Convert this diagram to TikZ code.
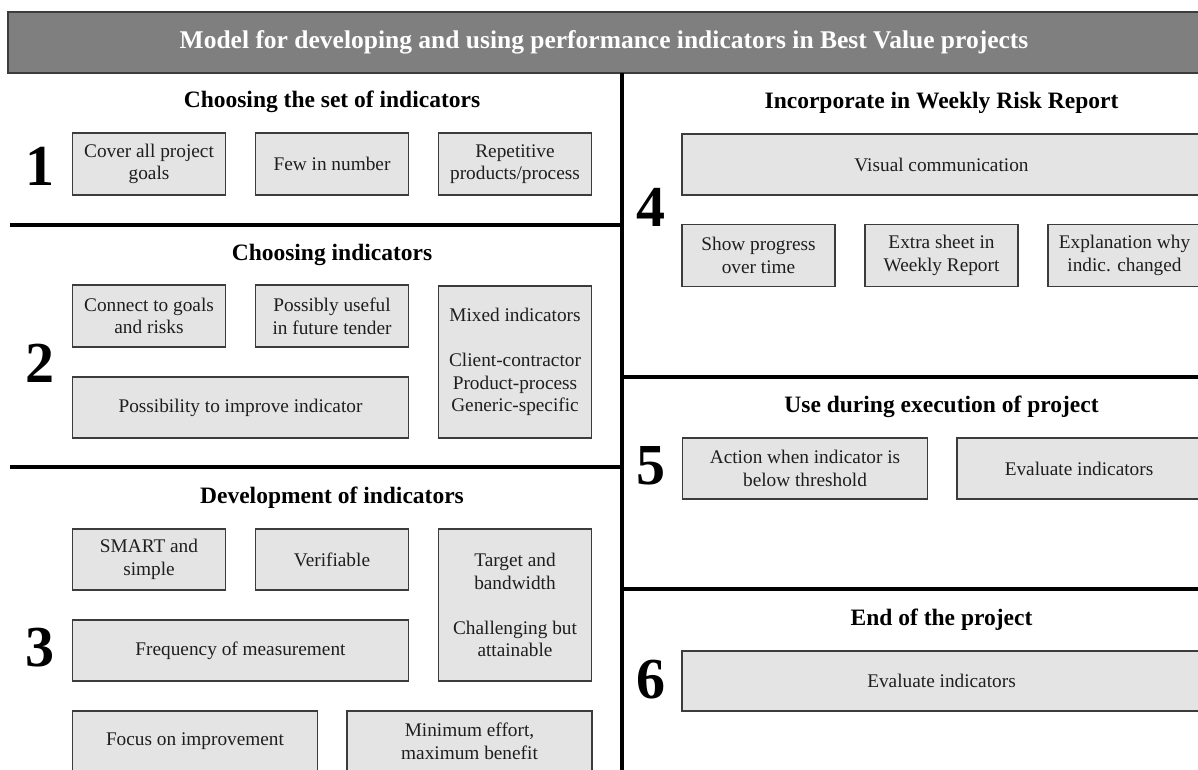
\documentclass[tikz,border=0pt]{standalone}
\usepackage{fontspec}
\setmainfont{Liberation Serif}
\usetikzlibrary{positioning}
\definecolor{BarGrey}{RGB}{127,127,127}
\definecolor{EdgeGrey}{RGB}{60,60,60}
\definecolor{BoxGrey}{RGB}{228,228,228}
\definecolor{BoxText}{RGB}{30,30,30}

\begin{document}
\begin{tikzpicture}[
    x=1pt,
    y=-1pt,
    box/.style={draw=EdgeGrey, fill=BoxGrey, line width=1.4pt, align=center,
      inner sep=0pt, text=BoxText, font=\fontsize{19.3}{22.6}\selectfont},
    heading/.style={font=\bfseries\fontsize{23.5}{26}\selectfont},
    number/.style={font=\bfseries\fontsize{58}{60}\selectfont},
    divider/.style={line width=3.5pt, black}
]
\useasboundingbox (0,0) rectangle (1198,769);
\clip (0,0) rectangle (1198,769);

% Title bar
\node[draw=EdgeGrey, fill=BarGrey, line width=2pt, minimum width=1192,
  minimum height=61, text=white, font=\bfseries\fontsize{25.5}{28}\selectfont]
  (title) at (604,42.5) {Model for developing and using performance indicators in Best Value projects};

% Dividers
\draw[divider] (622,73) -- (622,775);
\foreach \y in {225,467}{
  \draw[divider] (10,\y) -- (622,\y);
}
\foreach \y in {377,589}{
  \draw[divider] (622,\y) -- (1205,\y);
}

% 1: choosing the set
\node[heading] (head1) at (332,102) {Choosing the set of indicators};
\node[number] (num1) at (40,166) {1};
\node[box, minimum width=153, minimum height=62] (goals) at (149,164) {Cover all project\\goals};
\node[box, minimum width=153, minimum height=62] (few) at (332,164) {Few in number};
\node[box, minimum width=153, minimum height=62] (repetitive) at (515,164) {Repetitive\\products/process};

% 2: choosing indicators
\node[heading] (head2) at (332,255) {Choosing indicators};
\node[number] (num2) at (40,363) {2};
\node[box, minimum width=153, minimum height=62] (connect) at (149,316) {Connect to goals\\and risks};
\node[box, minimum width=153, minimum height=62] (tender) at (332,316) {Possibly useful\\in future tender};
\node[box, minimum width=153, minimum height=152] (mixed) at (515,362)
  {Mixed indicators\\[22.6pt]Client-contractor\\Product-process\\Generic-specific};
\node[box, minimum width=336, minimum height=61] (improve) at (240.5,407.5) {Possibility to improve indicator};

% 3: development
\node[heading] (head3) at (332,498) {Development of indicators};
\node[number] (num3) at (40,648) {3};
\node[box, minimum width=153, minimum height=61] (smart) at (149,559.5) {SMART and\\simple};
\node[box, minimum width=153, minimum height=61] (verifiable) at (332,559.5) {Verifiable};
\node[box, minimum width=153, minimum height=152] (target) at (515,605)
  {Target and\\bandwidth\\[22.6pt]Challenging but\\attainable};
\node[box, minimum width=336, minimum height=61] (frequency) at (240.5,650.5) {Frequency of measurement};
\node[box, minimum width=245, minimum height=61] (focus) at (195,741.5) {Focus on improvement};
\node[box, minimum width=245, minimum height=61] (benefit) at (469.5,741.5) {Minimum effort,\\maximum benefit};

% 4: weekly risk report
\node[heading] (head4) at (941.5,103) {Incorporate in Weekly Risk Report};
\node[number] (num4) at (651,207) {4};
\node[box, minimum width=519, minimum height=61] (visual) at (941.5,164.5) {Visual communication};
\node[box, minimum width=153, minimum height=62] (progress) at (758.5,255.5) {Show progress\\over time};
\node[box, minimum width=153, minimum height=62] (sheet) at (941.5,255.5) {Extra sheet in\\Weekly Report};
\node[box, minimum width=153, minimum height=62] (explain) at (1124.5,255.5) {Explanation why\\indic. changed};

% 5: execution
\node[heading] (head5) at (941.5,407) {Use during execution of project};
\node[number] (num5) at (651,466) {5};
\node[box, minimum width=245, minimum height=61] (action) at (805,468.5) {Action when indicator is\\below threshold};
\node[box, minimum width=244, minimum height=61] (evaluate) at (1079,468.5) {Evaluate indicators};

% 6: end of project
\node[heading] (head6) at (941.5,620) {End of the project};
\node[number] (num6) at (651,680) {6};
\node[box, minimum width=519, minimum height=60] (final) at (941.5,681) {Evaluate indicators};

\end{tikzpicture}
\end{document}
